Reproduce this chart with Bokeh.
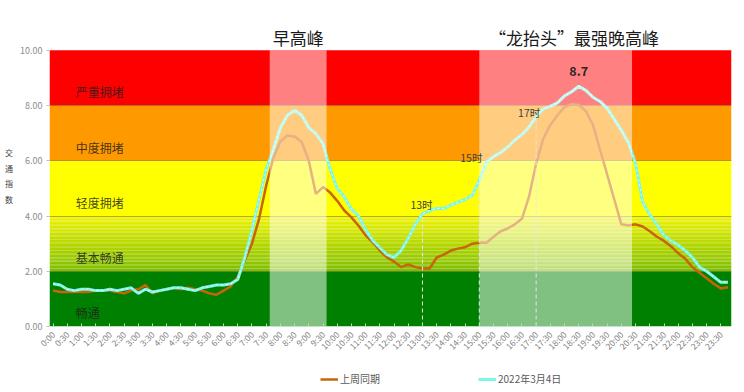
import math
import numpy as np
from bokeh.plotting import figure
from bokeh.layouts import column
from bokeh.models import (FixedTicker, NumeralTickFormatter, Label, Legend,
                          LegendItem, Range1d)
from bokeh.embed import file_html
from bokeh.resources import INLINE

# ---------------- data ----------------
# 96 quarter-hour categories, 0:00 ... 23:45 (x position = category index / 4 hours)
slot_hours = np.arange(96) / 4.0

tick_labels = ["0:00", "0:30", "1:00", "1:30", "2:00", "2:30", "3:00", "3:30",
               "4:00", "4:30", "5:00", "5:30", "6:00", "6:30", "7:00", "7:30",
               "8:00", "8:30", "9:00", "9:30", "10:00", "10:30", "11:00", "11:30",
               "12:00", "12:30", "13:00", "13:30", "14:00", "14:30", "15:00", "15:30",
               "16:00", "16:30", "17:00", "17:30", "18:00", "18:30", "19:00", "19:30",
               "20:00", "20:30", "21:00", "21:30", "22:00", "22:30", "23:00", "23:30"]
tick_hours = [i * 0.5 for i in range(len(tick_labels))]

last_week = [1.30, 1.25, 1.25, 1.25, 1.25, 1.25, 1.30, 1.30,
             1.30, 1.25, 1.20, 1.30, 1.35, 1.50, 1.20, 1.30,
             1.35, 1.40, 1.35, 1.40, 1.35, 1.30, 1.20, 1.15,
             1.30, 1.45, 1.80, 2.40, 3.00, 3.90, 5.10, 6.10,
             6.70, 6.92, 6.88, 6.68, 6.00, 4.80, 5.05, 4.85,
             4.55, 4.20, 3.95, 3.65, 3.30, 3.05, 2.75, 2.50,
             2.35, 2.15, 2.25, 2.15, 2.10, 2.10, 2.50, 2.60,
             2.75, 2.82, 2.87, 3.00, 3.03, 3.03, 3.25, 3.45,
             3.55, 3.70, 3.90, 4.70, 5.90, 6.80, 7.30, 7.65,
             7.95, 8.05, 8.02, 7.80, 7.30, 6.40, 5.50, 4.60,
             3.70, 3.66, 3.70, 3.62, 3.45, 3.25, 3.10, 2.90,
             2.65, 2.45, 2.15, 1.95, 1.75, 1.55, 1.38, 1.42]

mar4 = [1.55, 1.50, 1.35, 1.30, 1.35, 1.35, 1.30, 1.30,
        1.35, 1.30, 1.35, 1.40, 1.20, 1.35, 1.25, 1.30,
        1.35, 1.40, 1.40, 1.35, 1.30, 1.40, 1.45, 1.50,
        1.50, 1.55, 1.70, 2.50, 3.50, 4.60, 5.70, 6.40,
        7.20, 7.65, 7.83, 7.65, 7.20, 6.98, 6.62, 5.70,
        5.00, 4.70, 4.25, 4.00, 3.50, 3.12, 2.85, 2.60,
        2.50, 2.75, 3.20, 3.70, 4.08, 4.20, 4.28, 4.27,
        4.40, 4.50, 4.60, 4.75, 5.30, 5.95, 6.15, 6.30,
        6.50, 6.75, 6.95, 7.22, 7.60, 7.88, 7.97, 8.10,
        8.35, 8.50, 8.70, 8.55, 8.30, 8.15, 7.90, 7.50,
        7.10, 6.65, 5.90, 4.50, 4.05, 3.70, 3.30, 3.10,
        2.95, 2.75, 2.50, 2.15, 2.00, 1.80, 1.60, 1.60]

zone_names = ["畅通", "基本畅通", "轻度拥堵", "中度拥堵", "严重拥堵"]
zone_low = [0, 2, 4, 6, 8]
zone_high = [2, 4, 6, 8, 10]

peak_names = ["早高峰", "“龙抬头”最强晚高峰"]
peak_start = [7.625, 15.0]
peak_end = [9.625, 20.375]

mark_names = ["13时", "15时", "17时"]
mark_hours = [13.0, 15.0, 17.0]

series_names = ["上周同期", "2022年3月4日"]
series_colors = ["#C8640A", "#7DF6E6"]

# ---------------- figure ----------------
FONT = "Noto Sans CJK SC"
x_lo, x_hi = -0.125, 23.875
y_top = 10.9   # headroom above the 10.00 band for the peak titles

p = figure(width=736, height=368, output_backend="svg", toolbar_location=None,
           x_range=Range1d(x_lo, x_hi), y_range=Range1d(0, y_top),
           min_border_left=49, min_border_right=5, min_border_top=25,
           min_border_bottom=42)
p.outline_line_color = None
p.background_fill_color = "white"
p.border_fill_color = "white"

# zone backgrounds
solid_colors = {0: "#008000", 2: "#FFFF00", 3: "#FF9900", 4: "#FF0000"}
for i, c in solid_colors.items():
    p.quad(left=x_lo, right=x_hi, bottom=zone_low[i], top=zone_high[i],
           fill_color=c, line_color=None, level="image")
# gradient zone (基本畅通)
n = 40
edges = np.linspace(zone_low[1], zone_high[1], n + 1)
top_rgb = np.array([240, 243, 0])
bot_rgb = np.array([125, 190, 0])
cols = []
for k in range(n):
    t = (k + 0.5) / n
    rgb = bot_rgb + (top_rgb - bot_rgb) * t
    cols.append("#%02x%02x%02x" % tuple(int(v) for v in rgb))
p.quad(left=x_lo, right=x_hi, bottom=edges[:-1], top=edges[1:] + 0.002,
       fill_color=cols, line_color=None, level="image")

# grid
p.xgrid.visible = False
p.ygrid.ticker = FixedTicker(ticks=[2, 4, 6, 8])
p.ygrid.grid_line_color = "#6b6030"
p.ygrid.grid_line_alpha = 0.45
p.ygrid.grid_line_width = 1

# lines
p.line(slot_hours, last_week, line_color=series_colors[0], line_width=2.5)
p.line(slot_hours, mar4, line_color=series_colors[1], line_width=3.0)
p.line(slot_hours, mar4, line_color="white", line_width=1, line_dash="2 3", line_alpha=0.8)

# peak highlight overlays
p.quad(left=peak_start, right=peak_end, bottom=0, top=10,
       fill_color="white", fill_alpha=0.5, line_color=None)

# dashed markers down to axis
mark_vals = [mar4[int(h * 4)] for h in mark_hours]
p.segment(x0=mark_hours, y0=0, x1=mark_hours, y1=mark_vals,
          line_color="#e6e6e6", line_dash="4 3", line_width=1)

mark_offsets = [(-1, 9), (-8, 23), (-7, 4)]
for name, h, v, (dx, dy) in zip(mark_names, mark_hours, mark_vals, mark_offsets):
    p.add_layout(Label(x=h, y=v, x_offset=dx, y_offset=dy, text=name,
                       text_align="center", text_baseline="middle",
                       text_font=FONT, text_font_size="10.5px",
                       text_color="#404040"))

# peak value label
imax = int(np.argmax(mar4))
p.add_layout(Label(x=slot_hours[imax], y=mar4[imax], y_offset=15,
                   text=f"{mar4[imax]:.1f}", text_align="center",
                   text_baseline="middle", text_font=FONT,
                   text_font_size="12.5px", text_font_style="bold",
                   text_color="#262626"))

# zone names
for name, lo, hi in zip(zone_names, zone_low, zone_high):
    p.add_layout(Label(x=0.8, y=(lo + hi) / 2 - 0.5, text=name,
                       text_align="left", text_baseline="middle",
                       text_font=FONT, text_font_size="12px",
                       text_color="#1f1f1f", text_alpha=0.85))

# peak titles
title_x = [(peak_start[0] + peak_end[0]) / 2, 18.33]
for name, tx in zip(peak_names, title_x):
    p.add_layout(Label(x=tx, y=10.47, text=name, text_align="center",
                       text_baseline="middle", text_font=FONT,
                       text_font_size="17px", text_color="#1a1a1a"))

# axes
p.yaxis.ticker = FixedTicker(ticks=[0, 2, 4, 6, 8, 10])
p.yaxis.formatter = NumeralTickFormatter(format="0.00")
p.yaxis.major_label_text_font = FONT
p.yaxis.major_label_text_font_size = "9px"
p.yaxis.major_label_text_color = "#8c8c8c"
p.yaxis.axis_line_color = None
p.yaxis.major_tick_line_color = "#bfbfbf"
p.yaxis.major_tick_out = 3
p.yaxis.major_tick_in = 0
p.yaxis.minor_tick_line_color = None
p.yaxis.major_label_standoff = 4
p.yaxis.axis_label = "交\n通\n指\n数"
p.yaxis.axis_label_orientation = "horizontal"
p.yaxis.axis_label_text_font = FONT
p.yaxis.axis_label_text_font_size = "8px"
p.yaxis.axis_label_text_font_style = "normal"
p.yaxis.axis_label_text_color = "#404040"
p.yaxis.axis_label_text_line_height = 1.45
p.yaxis.axis_label_standoff = 4

p.xaxis.ticker = FixedTicker(ticks=tick_hours)
p.xaxis.major_label_overrides = {h: lbl for h, lbl in zip(tick_hours, tick_labels)}
p.xaxis.major_label_orientation = math.pi / 4
p.xaxis.major_label_text_font = FONT
p.xaxis.major_label_text_font_size = "8.5px"
p.xaxis.major_label_text_color = "#808080"
p.xaxis.axis_line_color = None
p.xaxis.major_tick_line_color = "#bcd8bc"
p.xaxis.major_tick_out = 0
p.xaxis.major_tick_in = 3
p.xaxis.minor_tick_line_color = None
p.xaxis.major_label_standoff = 6

# ---------------- legend strip (separate small figure below) ----------------
# its frame is aligned with the main frame by the column layout; the key lines
# reuse the series but lie outside this strip's visible range.
lf = figure(width=736, height=22, output_backend="svg", toolbar_location=None,
            x_axis_location=None, y_axis_location=None,
            x_range=Range1d(100, 101), y_range=Range1d(100, 101),
            min_border_left=0, min_border_right=0, min_border_top=0,
            min_border_bottom=0)
lf.outline_line_color = None
lf.xgrid.visible = False
lf.ygrid.visible = False
key_last = lf.line(slot_hours, last_week, line_color=series_colors[0], line_width=2.5)
key_now = lf.line(slot_hours, mar4, line_color=series_colors[1], line_width=3.0)
legend = Legend(items=[LegendItem(label=series_names[0], renderers=[key_last]),
                       LegendItem(label=series_names[1], renderers=[key_now])],
                orientation="horizontal", location=(271, 4),
                label_text_font=FONT, label_text_font_size="10px",
                label_text_color="#595959", glyph_width=18, glyph_height=14,
                label_height=14, label_standoff=2, spacing=98,
                padding=0, margin=0, border_line_color=None,
                background_fill_alpha=0)
lf.add_layout(legend)

layout = column(p, lf, spacing=0)
open("out.html", "w").write(file_html(layout, INLINE))
